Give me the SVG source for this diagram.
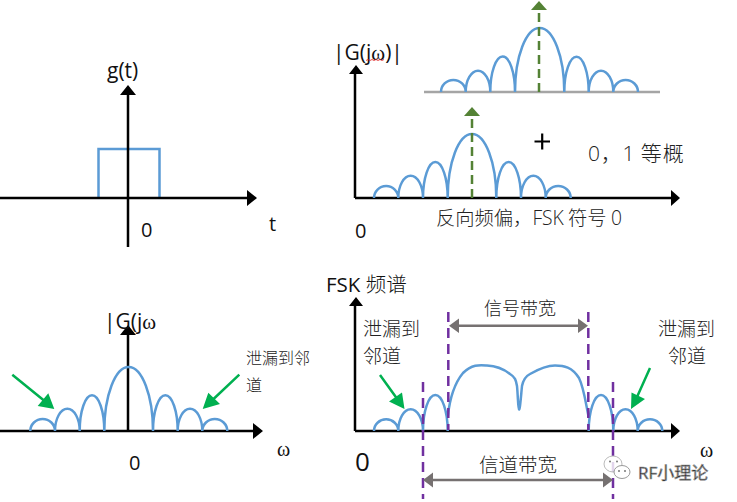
<svg xmlns="http://www.w3.org/2000/svg" width="737" height="502" viewBox="0 0 737 502">
<style>
.ax{stroke:#000;stroke-width:2.5;fill:none}
.h{fill:#000}
.sp{stroke:#5B9BD5;stroke-width:2.5;fill:none}
.gd{stroke:#548235;stroke-width:2.5;stroke-dasharray:9 5;fill:none}
.gh{fill:#548235}
.pd{stroke:#7030A0;stroke-width:2.5;stroke-dasharray:10 6;fill:none}
.gy{stroke:#767171;stroke-width:2.5;fill:none}
.gyh{fill:#767171}
.ga{stroke:#00B050;stroke-width:2.5;fill:none}
.gah{fill:#00B050}
text{font-family:"Open Sans","Noto Sans CJK SC",sans-serif;fill:#111}
.cj{font-family:"Noto Sans CJK SC",sans-serif;fill:#222;font-weight:300}
.m{font-family:"Liberation Serif","Noto Sans CJK SC",serif;fill:#111}
</style>
<rect width="737" height="502" fill="#fff"/>
<g id="panel-gt">
<path class="sp" d="M98.500 198V149H159.500V198"/>
<path class="ax" d="M0 198H250M128 247V92"/>
<path class="h" d="M257 198L247 190V206ZM128 85L120 95H136Z"/>
<text x="107" y="78" font-size="21">g(t)</text>
<text x="141" y="237" font-size="20">0</text>
<text x="269" y="231" font-size="20">t</text>
</g>
<g id="panel-sum">
<path d="M424 92H660" stroke="#A5A5A5" stroke-width="2.500" fill="none"/>
<path class="sp" d="M441 92A12.300 12 0 0 1 465.700 92A12.300 21.300 0 0 1 490.300 92A12.300 35.300 0 0 1 515 92A24.650 64 0 0 1 564.300 92A12.200 35.300 0 0 1 588.700 92A12.300 21.300 0 0 1 613.300 92A12.350 12 0 0 1 638 92"/>
<path class="gd" d="M539 92V10"/>
<path class="gh" d="M539 1L531 10H547Z"/>
<path class="ax" d="M355 198H672M355 198V72"/>
<path class="h" d="M680 198L671 190V206ZM356 65L349 74H363Z"/>
<path class="sp" d="M374 198A12.150 12 0 0 1 398.300 198A12.350 22.300 0 0 1 423 198A12.350 36 0 0 1 447.700 198A24.300 64 0 0 1 496.300 198A12.350 36 0 0 1 521 198A12.350 22.300 0 0 1 545.700 198A12.500 12 0 0 1 570.700 198"/>
<path class="gd" d="M472 198V116"/>
<path class="gh" d="M472 107L464 116H480Z"/>
<text x="333" y="60" font-size="21">|G(j<tspan font-family="Liberation Serif">ω</tspan>)|</text>
<path d="M366 60.500l2 -1l2 1l2 -1l2 1l2 -1l2 1l2 -1l2 1l2 -1" stroke="#E02020" stroke-width="0.800" fill="none"/>
<text x="355" y="238" font-size="20">0</text>
<path d="M534.500 141.500H550M542.200 133.500V149.500" stroke="#000" stroke-width="2.200" fill="none"/>
<text x="588" y="161" font-size="21" class="cj" letter-spacing="0.800"><tspan font-family="Open Sans">0</tspan>，<tspan font-family="Open Sans">1</tspan> 等概</text>
<text x="436" y="225" font-size="19.300" class="cj">反向频偏，<tspan font-family="Open Sans">FSK</tspan> 符号 <tspan font-family="Open Sans">0</tspan></text>
</g>
<g id="panel-leak">
<path class="ax" d="M0 431H255M128 431V333"/>
<path class="h" d="M263 431L253 423V439ZM128 325L120 335H136Z"/>
<path class="sp" d="M30.300 431A12.350 12 0 0 1 55 431A12.350 22.300 0 0 1 79.700 431A12.300 35.700 0 0 1 104.300 431A24.350 64 0 0 1 153 431A12.350 35.700 0 0 1 177.700 431A12.300 22.300 0 0 1 202.300 431A12.500 12 0 0 1 227.300 431"/>
<path class="ga" d="M12.300 374.700L44 400.500M239.300 374.700L213 399.500"/>
<path class="gah" d="M54.300 409L37.700 406L48.300 393.300ZM202.700 409L220 404L208.300 392.700Z"/>
<text x="104" y="329" font-size="21">|G(j<tspan font-family="Liberation Serif">ω</tspan></text>
<text x="129" y="470" font-size="20">0</text>
<text x="277" y="456" font-size="20" class="m">ω</text>
<text x="246" y="364" font-size="16" class="cj">泄漏到邻</text>
<text x="246" y="391" font-size="16" class="cj">道</text>
</g>
<g id="panel-fsk">
<path class="ax" d="M355 431H672M355 431V305"/>
<path class="h" d="M680 431L671 423V439ZM356 297L349 306H363Z"/>
<path class="sp" d="M374 431A12.150 11.700 0 0 1 398.300 431A12.350 21.700 0 0 1 423 431A12.350 36 0 0 1 447.700 431M588.700 431A12.300 36 0 0 1 613.300 431A12.200 21.700 0 0 1 637.700 431A12.300 11.700 0 0 1 662.300 431"/>
<path class="sp" d="M447.700 417C449 405 453 385 463 373C472 364 480 365 487 365.500C497 366 505 370 510 374C515 377 516 380 517 386C518 396 518 409 519 409.500C520 410 521 396 522 386C523 381 526 376 530 374C537 370 548 365.500 555 365.500C564 365.500 572 367 579 378C584 388 586 405 588.700 417"/>
<path class="pd" d="M448.300 312V430M588.300 312V430M423 382V499M613 382V499"/>
<path class="gy" d="M458 325.700H579M433 480H603"/>
<path class="gyh" d="M449 325.700L459 318.500V333ZM588 325.700L578 318.500V333ZM423 480L433 472.500V487.500ZM613 480L603 472.500V487.500Z"/>
<path class="ga" d="M380 375L398 400M650 368L637 397"/>
<path class="gah" d="M404.500 409L389 401.500L402 392.500ZM631 409L631.500 392.500L645 399Z"/>
<text x="326" y="292" font-size="20.500">FSK <tspan font-family="Noto Sans CJK SC" font-weight="300">频谱</tspan></text>
<text x="520" y="315" font-size="18" class="cj" text-anchor="middle">信号带宽</text>
<text x="518" y="472" font-size="19.500" class="cj" text-anchor="middle">信道带宽</text>
<text x="363" y="336" font-size="19" class="cj">泄漏到</text>
<text x="363" y="363" font-size="19" class="cj">邻道</text>
<text x="658" y="336" font-size="19" class="cj">泄漏到</text>
<text x="668" y="363" font-size="19" class="cj">邻道</text>
<text x="355" y="471" font-size="26">0</text>
<text x="700" y="457" font-size="20" class="m">ω</text>
</g>
<g id="watermark">
<ellipse cx="613" cy="464" rx="9" ry="8" fill="#fff" fill-opacity="0.800" stroke="#bbb" stroke-width="1"/>
<ellipse cx="622" cy="472" rx="8" ry="6.500" fill="#fff" stroke="#999" stroke-width="1"/>
<circle cx="610" cy="461.500" r="1" fill="#777"/><circle cx="617" cy="461.500" r="1" fill="#777"/>
<circle cx="619" cy="471" r="1" fill="#777"/><circle cx="625" cy="471" r="1" fill="#777"/>
<text x="638" y="479" font-size="17" fill="#fff" stroke="#999" stroke-width="0.700" font-family="Noto Sans CJK SC">RF小理论</text>
</g>
</svg>
